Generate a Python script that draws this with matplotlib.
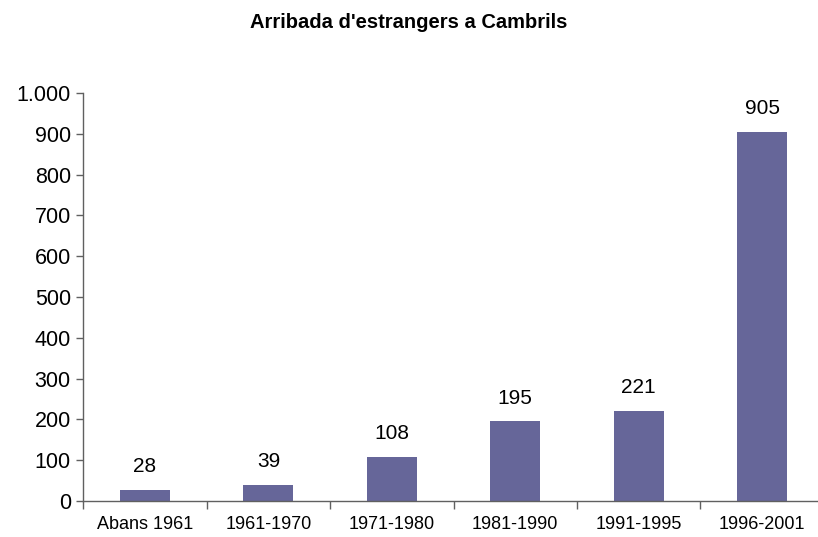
import matplotlib.pyplot as plt
from matplotlib.ticker import FuncFormatter, FixedLocator

categories = ['Abans 1961', '1961-1970', '1971-1980', '1981-1990', '1991-1995', '1996-2001']
values = [28, 39, 108, 195, 221, 905]
yticks = [0, 100, 200, 300, 400, 500, 600, 700, 800, 900, 1000]

plt.rcParams['font.family'] = ['Liberation Sans', 'DejaVu Sans']

fig = plt.figure(figsize=(8.18, 5.37), dpi=100)
ax = fig.add_axes([83.3 / 818, 36 / 537, 740.4 / 818, 408 / 537])

x = list(range(len(categories)))
bars = ax.bar(x, values, width=0.405, color='#666699', zorder=2)
for xi, v in zip(x, values):
    ax.annotate(str(v), (xi, v), xytext=(0, 10), textcoords='offset points',
                ha='center', va='bottom', fontsize=15)

ax.set_xlim(-0.5, len(categories) - 0.5)
ax.set_ylim(0, 1000)
ax.set_yticks(yticks)
ax.yaxis.set_major_formatter(FuncFormatter(lambda v, p: f'{int(v):,}'.replace(',', '.')))
ax.set_xticks(x)
ax.set_xticklabels(categories)
ax.xaxis.set_major_locator(FixedLocator(x))
ax.set_xticks([i + 0.5 for i in range(-1, len(categories))], minor=True)
ax.tick_params(axis='x', which='major', length=0, pad=11, labelsize=13)
ax.tick_params(axis='x', which='minor', length=6, width=1, color='#606060')
ax.tick_params(axis='y', length=5, width=1, color='#606060', labelsize=15.5, pad=4)

for s in ['top', 'right']:
    ax.spines[s].set_visible(False)
for s in ['left', 'bottom']:
    ax.spines[s].set_color('#606060')
    ax.spines[s].set_linewidth(1)

fig.text(0.5, 1 - 22 / 537, "Arribada d'estrangers a Cambrils", ha='center', va='center',
         fontsize=14.5, fontweight='bold')

fig.savefig('out.png', dpi=100)
